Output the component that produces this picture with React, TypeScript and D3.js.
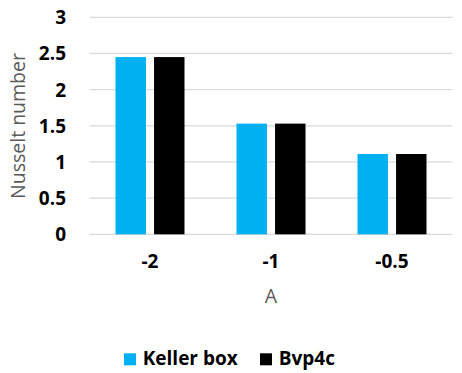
import React from "react";
import * as d3 from "d3";

const categories = ["-2", "-1", "-0.5"];
const series = ["Keller box", "Bvp4c"];
const kellerBox = [2.45, 1.53, 1.11];
const bvp4c = [2.45, 1.53, 1.11];
const yTicks = [0, 0.5, 1, 1.5, 2, 2.5, 3];

const colors = ["#00B0F0", "#000000"];
const values = [kellerBox, bvp4c];

const W = 462;
const H = 373;
const plot = { left: 89.5, right: 452.5, top: 17.3, bottom: 234.3 };
const font = "'Open Sans', Lato, sans-serif";

export default function App() {
  const x = d3
    .scaleBand<string>()
    .domain(categories)
    .range([plot.left, plot.right])
    .paddingInner(0)
    .paddingOuter(0);
  const inner = d3
    .scaleBand<string>()
    .domain(series)
    .range([-34.5, 34.5])
    .paddingInner(0.21);
  const y = d3.scaleLinear().domain([0, 3]).range([plot.bottom, plot.top]);

  return (
    <svg
      width={W}
      height={H}
      style={{ position: "absolute", left: 0, top: 0, background: "#fff" }}
    >
      {yTicks.map((t) => (
        <g key={t}>
          <line
            x1={plot.left}
            x2={plot.right}
            y1={y(t)}
            y2={y(t)}
            stroke="#d9d9d9"
            strokeWidth={1.3}
          />
          <text
            x={66}
            y={y(t) + 7}
            textAnchor="end"
            fontFamily={font}
            fontWeight="bold"
            fontSize={19}
            fill="#000"
          >
            {t}
          </text>
        </g>
      ))}
      {categories.map((c, i) => {
        const cx = (x(c) as number) + x.bandwidth() / 2;
        return (
          <g key={c}>
            {series.map((s, j) => (
              <rect
                key={s}
                x={cx + (inner(s) as number)}
                y={y(values[j][i])}
                width={inner.bandwidth()}
                height={y(0) - y(values[j][i])}
                fill={colors[j]}
              />
            ))}
            <text
              x={cx}
              y={268.3}
              textAnchor="middle"
              fontFamily={font}
              fontWeight="bold"
              fontSize={19}
              fill="#000"
            >
              {c}
            </text>
          </g>
        );
      })}
      <text
        x={(plot.left + plot.right) / 2}
        y={303.3}
        textAnchor="middle"
        fontFamily={font}
        fontSize={19.5}
        fill="#595959"
      >
        A
      </text>
      <text
        transform={`translate(25,126) rotate(-90)`}
        textAnchor="middle"
        fontFamily={font}
        fontSize={19.5}
        fill="#595959"
      >
        Nusselt number
      </text>
      {series.map((s, j) => {
        const lx = j === 0 ? 124 : 260;
        return (
          <g key={s}>
            <rect x={lx} y={353.3} width={12} height={12} fill={colors[j]} />
            <text
              x={lx + 18.7}
              y={365}
              fontFamily={font}
              fontWeight="bold"
              fontSize={19}
              fill="#000"
            >
              {s}
            </text>
          </g>
        );
      })}
    </svg>
  );
}
